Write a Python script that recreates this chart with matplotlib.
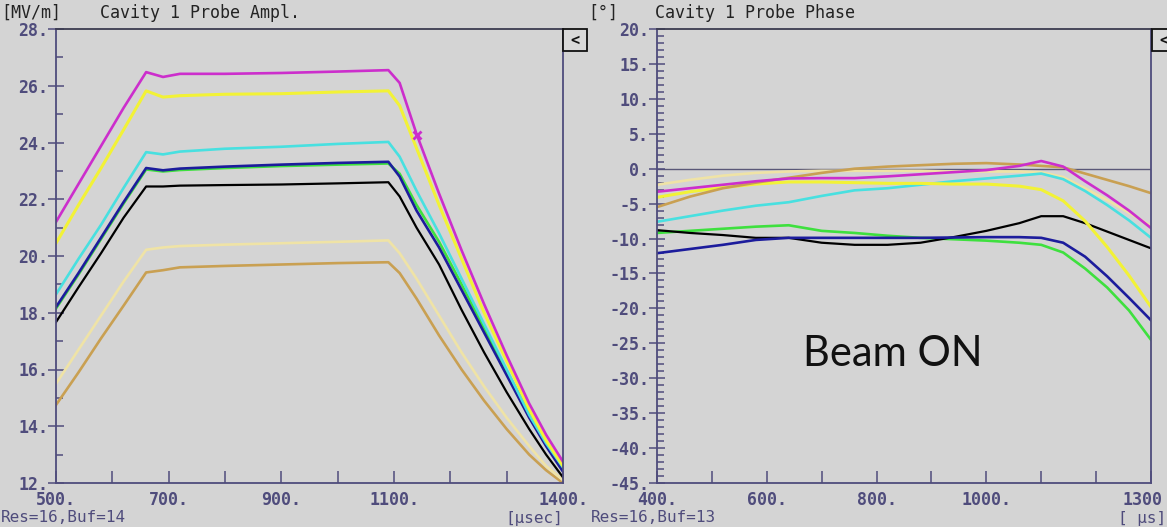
import matplotlib
matplotlib.use("Agg")
import matplotlib.pyplot as plt
from matplotlib.patches import Rectangle
from matplotlib.ticker import FixedLocator, FixedFormatter
from matplotlib.transforms import ScaledTranslation

# ---- Probe amplitude [MV/m] versus time [usec] ----
amp_t = [500, 540, 580, 620, 660, 690, 720, 800, 900, 1000, 1090, 1110,
         1140, 1180, 1220, 1260, 1300, 1340, 1370, 1400]
amp_magenta = [21.2, 22.54, 23.88, 25.22, 26.48, 26.31, 26.42, 26.42, 26.45, 26.5,
               26.55, 26.1, 24.3, 22.2, 20.2, 18.3, 16.5, 14.8, 13.7, 12.75]
amp_yellow = [20.45, 21.8, 23.1, 24.45, 25.82, 25.6, 25.65, 25.7, 25.72, 25.78,
              25.82, 25.3, 23.8, 21.8, 19.9, 18.0, 16.3, 14.6, 13.5, 12.6]
amp_cyan = [18.65, 19.9, 21.1, 22.4, 23.66, 23.58, 23.68, 23.78, 23.85, 23.95,
            24.02, 23.5, 22.3, 20.8, 19.2, 17.6, 16.0, 14.4, 13.4, 12.55]
amp_green = [18.15, 19.35, 20.6, 21.85, 23.05, 22.98, 23.03, 23.1, 23.17, 23.22,
             23.26, 22.9, 21.8, 20.5, 19.0, 17.45, 15.95, 14.45, 13.45, 12.5]
amp_blue = [18.2, 19.4, 20.65, 21.9, 23.1, 23.02, 23.08, 23.15, 23.22, 23.28,
            23.32, 22.8, 21.6, 20.3, 18.8, 17.3, 15.8, 14.3, 13.3, 12.4]
amp_black = [17.67, 18.9, 20.1, 21.35, 22.45, 22.45, 22.48, 22.5, 22.52, 22.56,
             22.6, 22.1, 21.0, 19.7, 18.1, 16.6, 15.2, 13.9, 13.0, 12.2]
amp_pale = [15.5, 16.7, 17.9, 19.1, 20.22, 20.3, 20.35, 20.4, 20.45, 20.5,
            20.55, 20.1, 19.2, 17.9, 16.6, 15.4, 14.3, 13.3, 12.6, 12.1]
amp_tan = [14.75, 15.9, 17.1, 18.25, 19.42, 19.5, 19.6, 19.65, 19.7, 19.75,
           19.78, 19.4, 18.5, 17.2, 16.0, 14.9, 13.9, 13.0, 12.45, 12.0]
amp_cursor = (1141, 24.25)

# ---- Probe phase [deg] versus time [us] ----
pha_t = [400, 460, 520, 580, 640, 700, 760, 820, 880, 940, 1000, 1060,
         1100, 1140, 1180, 1220, 1260, 1300]
pha_magenta = [-3.3, -2.8, -2.3, -1.8, -1.4, -1.35, -1.35, -1.1, -0.8, -0.5, -0.2,
               0.4, 1.1, 0.3, -1.8, -3.8, -6.0, -8.5]
pha_tan = [-5.5, -4.0, -2.8, -2.0, -1.3, -0.6, 0.0, 0.3, 0.5, 0.7, 0.8, 0.6, 0.4,
           0.2, -0.7, -1.6, -2.5, -3.5]
pha_yellow = [-4.1, -3.3, -2.7, -2.2, -1.9, -1.9, -2.0, -2.1, -2.1, -2.2, -2.2,
              -2.5, -3.0, -4.6, -7.5, -11.2, -15.3, -19.8]
pha_pale = [-2.3, -1.6, -1.0, -0.6, -0.4, -0.3, -0.3, -0.3, -0.3, -0.4, -0.4,
            -0.4, -0.5, -1.2, -2.8, -4.5, -6.3, -8.2]
pha_cyan = [-7.6, -6.8, -6.0, -5.3, -4.8, -3.9, -3.1, -2.8, -2.3, -1.8, -1.4,
            -1.0, -0.7, -1.5, -3.2, -5.2, -7.4, -9.9]
pha_green = [-9.2, -8.9, -8.6, -8.3, -8.1, -8.9, -9.2, -9.6, -9.9, -10.1, -10.3,
             -10.6, -10.9, -12.0, -14.3, -17.0, -20.3, -24.5]
pha_blue = [-12.1, -11.5, -10.9, -10.2, -9.9, -9.9, -9.9, -9.9, -9.9, -9.85, -9.8,
            -9.8, -9.9, -10.6, -12.6, -15.4, -18.5, -21.7]
pha_black = [-8.8, -9.2, -9.5, -9.9, -9.9, -10.6, -10.9, -10.9, -10.6, -9.8, -8.9,
             -7.8, -6.8, -6.8, -7.8, -9.0, -10.2, -11.4]

# ---- axis tick values and labels ----
amp_xticks = [500, 600, 700, 800, 900, 1000, 1100, 1200, 1300, 1400]
amp_xlabels = ["500.", "", "700.", "", "900.", "", "1100.", "", "", "1400."]
amp_yticks = [12, 14, 16, 18, 20, 22, 24, 26, 28]
amp_ylabels = ["12.", "14.", "16.", "18.", "20.", "22.", "24.", "26.", "28."]
pha_xticks = [400, 500, 600, 700, 800, 900, 1000, 1100, 1200, 1300]
pha_xlabels = ["400.", "", "600.", "", "800.", "", "1000.", "", "", "1300"]
pha_yticks = [-45, -40, -35, -30, -25, -20, -15, -10, -5, 0, 5, 10, 15, 20]
pha_ylabels = ["-45.", "-40.", "-35.", "-30.", "-25.", "-20.", "-15.", "-10.",
               "-5.", "0.", "5.", "10.", "15.", "20."]

BG = "#d4d4d4"
AX = "#4f4c7c"
TXT = "#232323"
C_MAG = "#cc2ecc"
C_YEL = "#f2f236"
C_CYA = "#48e0e0"
C_GRN = "#3ee03e"
C_BLU = "#1c1c9c"
C_BLK = "#000000"
C_PAL = "#efe3a6"
C_TAN = "#c9a052"

W, H = 1167, 527
fig = plt.figure(figsize=(W / 100, H / 100), dpi=100, facecolor=BG)


def fx(px):
    return px / W


def fy(py):
    return 1 - py / H


mono = "DejaVu Sans Mono"


def style_axes(ax, xlim, ylim, xticks, xlabels, yticks, ylabels, yminor):
    ax.set_facecolor(BG)
    ax.set_xlim(*xlim)
    ax.set_ylim(*ylim)
    for s in ax.spines.values():
        s.set_color(AX)
        s.set_linewidth(1.3)
    ax.spines["top"].set_color("#3c3c50")
    ax.xaxis.set_major_locator(FixedLocator(xticks))
    ax.xaxis.set_major_formatter(FixedFormatter(xlabels))
    ax.yaxis.set_major_locator(FixedLocator(yticks))
    ax.yaxis.set_major_formatter(FixedFormatter(ylabels))
    ax.yaxis.set_minor_locator(FixedLocator(yminor))
    ax.tick_params(axis="x", direction="in", length=9, width=1.1, color=AX,
                   labelsize=12, labelcolor=AX, pad=5.5, top=False)
    ax.tick_params(axis="y", which="major", direction="inout", length=11, width=1.1,
                   color=AX, labelsize=12, labelcolor=AX, pad=0, right=False)
    ax.tick_params(axis="y", which="minor", direction="in", length=5, width=1.1,
                   color=AX, right=False)
    for lab in ax.get_xticklabels() + ax.get_yticklabels():
        lab.set_fontfamily(mono)
        lab.set_fontweight("bold")


# ---- amplitude panel ----
ax1 = fig.add_axes([fx(56), fy(483), fx(563) - fx(56), fy(29) - fy(483)])
style_axes(ax1, (500, 1400), (12, 28), amp_xticks, amp_xlabels, amp_yticks,
           amp_ylabels, [13, 15, 17, 19, 21, 23, 25, 27])
lw = 1.9
ax1.plot(amp_t, amp_tan, color=C_TAN, lw=lw)
ax1.plot(amp_t, amp_pale, color=C_PAL, lw=lw)
ax1.plot(amp_t, amp_black, color=C_BLK, lw=1.6)
ax1.plot(amp_t, amp_green, color=C_GRN, lw=lw)
ax1.plot(amp_t, amp_blue, color=C_BLU, lw=lw)
ax1.plot(amp_t, amp_cyan, color=C_CYA, lw=lw)
ax1.plot(amp_t, amp_yellow, color=C_YEL, lw=2.2)
ax1.plot(amp_t, amp_magenta, color=C_MAG, lw=lw)
ax1.plot([amp_cursor[0]], [amp_cursor[1]], marker="x", color=C_MAG, ms=6, mew=2)

# ---- phase panel ----
ax2 = fig.add_axes([fx(657), fy(483), fx(1151) - fx(657), fy(29) - fy(483)])
style_axes(ax2, (400, 1300), (-45, 20), pha_xticks, pha_xlabels, pha_yticks,
           pha_ylabels, [v for v in range(-44, 20) if v % 5 != 0])
ax2.axhline(0, color="#5a5878", lw=1.0, zorder=1)
ax2.plot(pha_t, pha_pale, color=C_PAL, lw=lw)
ax2.plot(pha_t, pha_green, color=C_GRN, lw=lw)
ax2.plot(pha_t, pha_black, color=C_BLK, lw=1.6)
ax2.plot(pha_t, pha_blue, color=C_BLU, lw=lw)
ax2.plot(pha_t, pha_cyan, color=C_CYA, lw=lw)
ax2.plot(pha_t, pha_yellow, color=C_YEL, lw=2.2)
ax2.plot(pha_t, pha_tan, color=C_TAN, lw=lw)
ax2.plot(pha_t, pha_magenta, color=C_MAG, lw=lw)
ax2.text(0.478, 0.284, "Beam ON", transform=ax2.transAxes, ha="center",
         va="center", fontsize=30, family="Lato", color="#111111")

# last phase time label sits flush against the right edge
last = ax2.get_xticklabels()[-1]
last.set_transform(last.get_transform()
                   + ScaledTranslation(-8 / 100, 0, fig.dpi_scale_trans))

# ---- header and footer texts ----
fig.text(fx(1), fy(13), "[MV/m]", family=mono, fontsize=12, color=TXT,
         va="center", ha="left")
fig.text(fx(100), fy(13), "Cavity 1 Probe Ampl.", family=mono, fontsize=12,
         color=TXT, va="center", ha="left")
fig.text(fx(588), fy(13), "[°]", family=mono, fontsize=12, color=TXT,
         va="center", ha="left")
fig.text(fx(655), fy(13), "Cavity 1 Probe Phase", family=mono, fontsize=12,
         color=TXT, va="center", ha="left")
fig.text(fx(1), fy(518), "Res=16,Buf=14", family=mono, fontsize=11.5,
         color=AX, va="center", ha="left")
fig.text(fx(563), fy(518), "[µsec]", family=mono, fontsize=11.5,
         color=AX, va="center", ha="right")
fig.text(fx(591), fy(518), "Res=16,Buf=13", family=mono, fontsize=11.5,
         color=AX, va="center", ha="left")
fig.text(fx(1166), fy(518), "[ µs]", family=mono, fontsize=11.5,
         color=AX, va="center", ha="right")

# ---- small scroll buttons ----
for bx in (563, 1152):
    fig.patches.append(Rectangle((fx(bx), fy(51)), fx(24), fy(29) - fy(51),
                                 transform=fig.transFigure, facecolor="#d9d9d9",
                                 edgecolor="#111111", lw=1.3))
    fig.text(fx(bx + 12), fy(40), "<", family=mono, fontsize=11,
             fontweight="bold", color="#111111", ha="center", va="center")

fig.savefig("out.png", dpi=100, facecolor=BG)
